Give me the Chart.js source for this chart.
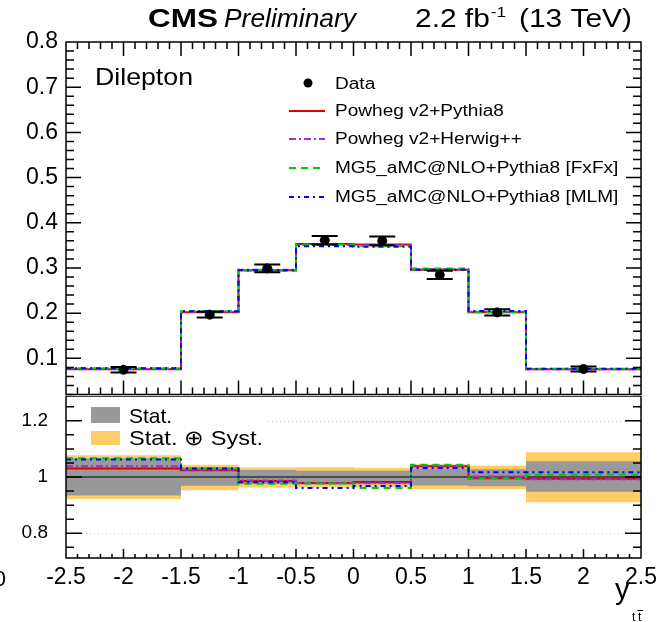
<!DOCTYPE html>
<html>
<head>
<meta charset="utf-8">
<script src="https://cdn.jsdelivr.net/npm/chart.js@4.4.0/dist/chart.umd.min.js"></script>
<style>
  html, body { margin: 0; padding: 0; background: #fff; }
  #wrap { position: relative; width: 670px; height: 622px; overflow: hidden; }
  #top { position: absolute; left: 0; top: 0; }
  #bot { position: absolute; left: 0; top: 396px; }
</style>
</head>
<body>
<div id="wrap">
  <canvas id="top" width="670" height="400"></canvas>
  <canvas id="bot" width="670" height="226"></canvas>
</div>
<script>
// bins of y(tt)
const binEdges = [-2.5, -1.5, -1, -0.5, 0, 0.5, 1, 1.5, 2.5];

// normalised cross section, data
const dataVals = [0.0748, 0.1967, 0.2990, 0.3615, 0.3600, 0.2847, 0.2017, 0.0765];
const dataErrs = [0.0060, 0.0062, 0.0084, 0.0095, 0.0095, 0.0090, 0.0070, 0.0055];

// predictions
const powhegPythia = [0.076, 0.202, 0.295, 0.353, 0.352, 0.296, 0.202, 0.076];
const powhegHerwig = [0.077, 0.203, 0.296, 0.351, 0.350, 0.297, 0.203, 0.076];
const mgFxFx       = [0.078, 0.204, 0.294, 0.352, 0.348, 0.299, 0.202, 0.077];
const mgMLM        = [0.078, 0.204, 0.295, 0.348, 0.347, 0.296, 0.205, 0.077];

// ratio panel
const ratioPowhegPythia = [1.030, 1.024, 0.986, 0.979, 0.982, 1.038, 0.996, 0.994];
const ratioPowhegHerwig = [1.038, 1.026, 0.988, 0.978, 0.979, 1.037, 1.002, 0.992];
const ratioFxFx         = [1.067, 1.030, 0.976, 0.977, 0.961, 1.044, 0.995, 1.008];
const ratioMLM          = [1.062, 1.030, 0.981, 0.961, 0.968, 1.032, 1.017, 1.017];
const statLow  = [0.934, 0.969, 0.975, 0.973, 0.973, 0.970, 0.967, 0.948];
const statHigh = [1.067, 1.036, 1.025, 1.022, 1.022, 1.030, 1.028, 1.056];
const systLow  = [0.922, 0.953, 0.963, 0.963, 0.963, 0.957, 0.957, 0.910];
const systHigh = [1.077, 1.044, 1.034, 1.035, 1.032, 1.045, 1.040, 1.088];
const unity = 1;

// tick labels
const mainTicks  = [0.1, 0.2, 0.3, 0.4, 0.5, 0.6, 0.7, 0.8];
const ratioTicks = [0.8, 1, 1.2];
const xTicks     = [-2.5, -2, -1.5, -1, -0.5, 0, 0.5, 1, 1.5, 2, 2.5];

const FONT = '"Liberation Sans", Arial, Helvetica, sans-serif';
Chart.defaults.font.family = FONT;
Chart.defaults.color = '#000';

const series = [
  { label: 'Powheg v2+Pythia8', color: '#dd0000', dash: [], main: powhegPythia, ratio: ratioPowhegPythia },
  { label: 'Powheg v2+Herwig++', color: '#9933cc', dash: [7, 3, 2, 3], main: powhegHerwig, ratio: ratioPowhegHerwig },
  { label: 'MG5_aMC@NLO+Pythia8 [FxFx]', color: '#00cc00', dash: [7, 5], main: mgFxFx, ratio: ratioFxFx },
  { label: 'MG5_aMC@NLO+Pythia8 [MLM]', color: '#0000ff', dash: [5, 4, 2, 4], main: mgMLM, ratio: ratioMLM }
];

const stepPts = vals => binEdges.map((e, i) => ({ x: e, y: vals[Math.min(i, vals.length - 1)] }));
const centers = binEdges.slice(0, -1).map((e, i) => (e + binEdges[i + 1]) / 2);

function txt(ctx, str, x, y, font, opts) {
  opts = opts || {};
  ctx.save();
  ctx.font = font;
  ctx.fillStyle = '#000';
  ctx.textBaseline = 'alphabetic';
  ctx.textAlign = 'left';
  const w = ctx.measureText(str).width;
  const sx = opts.width ? opts.width / w : (opts.sx || 1);
  ctx.translate(x, y);
  ctx.scale(sx, 1);
  ctx.fillText(str, opts.right ? -w : 0, 0);
  ctx.restore();
  return w * sx;
}

// ROOT style frame with inward ticks
const framePlugin = {
  id: 'frame',
  afterDraw(chart, args, o) {
    const { ctx, chartArea: a } = chart;
    const x = chart.scales.x, y = chart.scales.y;
    ctx.save();
    ctx.strokeStyle = '#000';
    ctx.lineWidth = 1.5;
    ctx.beginPath();
    for (let i = 1; i < 50; i++) {
      const px = x.getPixelForValue(-2.5 + i * 0.1);
      const len = i % 5 === 0 ? o.xMajor : o.xMinor;
      if (o.xTop) { ctx.moveTo(px, a.top); ctx.lineTo(px, a.top + len); }
      ctx.moveTo(px, a.bottom); ctx.lineTo(px, a.bottom - len);
    }
    o.yTicks.forEach(t => {
      const py = y.getPixelForValue(t.v);
      const len = t.major ? o.yMajor : o.yMinor;
      ctx.moveTo(a.left, py); ctx.lineTo(a.left + len, py);
      ctx.moveTo(a.right, py); ctx.lineTo(a.right - len, py);
    });
    ctx.stroke();
    ctx.strokeRect(a.left, a.top, a.right - a.left, a.bottom - a.top);
    ctx.restore();
  }
};

const errorBars = {
  id: 'errorBars',
  afterDatasetsDraw(chart) {
    const { ctx } = chart;
    const x = chart.scales.x, y = chart.scales.y;
    ctx.save();
    ctx.strokeStyle = '#000';
    ctx.lineWidth = 2;
    centers.forEach((c, i) => {
      const px = x.getPixelForValue(c);
      const lo = y.getPixelForValue(dataVals[i] - dataErrs[i]);
      const hi = y.getPixelForValue(dataVals[i] + dataErrs[i]);
      ctx.beginPath();
      ctx.moveTo(px, lo); ctx.lineTo(px, hi);
      ctx.moveTo(px - 13, lo); ctx.lineTo(px + 13, lo);
      ctx.moveTo(px - 13, hi); ctx.lineTo(px + 13, hi);
      ctx.stroke();
    });
    ctx.restore();
  }
};

const topDecor = {
  id: 'topDecor',
  afterDraw(chart) {
    const ctx = chart.ctx;
    // header
    txt(ctx, 'CMS', 148, 27, 'bold 26px ' + FONT, { width: 70 });
    txt(ctx, 'Preliminary', 224, 27, 'italic 26px ' + FONT, { width: 132 });
    let cx = 415;
    cx += txt(ctx, '2.2 fb', cx, 27, '26px ' + FONT, { sx: 1.15 });
    txt(ctx, '-1', cx + 1, 17, '15px ' + FONT, { sx: 1.15 });
    txt(ctx, '(13 TeV)', 632, 27, '26px ' + FONT, { sx: 1.15, right: true });
    txt(ctx, 'Dilepton', 95, 85, '24px ' + FONT, { width: 98 });

    // legend
    const rows = [111, 139, 168, 197];
    ctx.save();
    ctx.fillStyle = '#000';
    ctx.beginPath();
    ctx.arc(308, 83, 4.5, 0, Math.PI * 2);
    ctx.fill();
    ctx.restore();
    txt(ctx, 'Data', 335, 88.5, '16px ' + FONT, { sx: 1.19 });
    series.forEach((s, k) => {
      ctx.save();
      ctx.strokeStyle = s.color;
      ctx.lineWidth = 2;
      ctx.setLineDash(s.dash);
      ctx.beginPath();
      ctx.moveTo(289, rows[k]); ctx.lineTo(325, rows[k]);
      ctx.stroke();
      ctx.restore();
      txt(ctx, s.label, 335, rows[k] + 4.5, '16px ' + FONT, { sx: 1.19 });
    });
  }
};

const OFF = 396; // top of the ratio canvas on the page

const botDecor = {
  id: 'botDecor',
  beforeDatasetsDraw(chart) {
    const { ctx, chartArea: a } = chart;
    const y = chart.scales.y;
    ctx.save();
    ctx.strokeStyle = '#c8c8c8';
    ctx.lineWidth = 1;
    ctx.setLineDash([1, 3]);
    ctx.beginPath();
    const p12 = Math.round(y.getPixelForValue(1.2)) + 0.5;
    const p08 = Math.round(y.getPixelForValue(0.8)) + 0.5;
    ctx.moveTo(268, p12); ctx.lineTo(a.right, p12);
    ctx.moveTo(a.left, p08); ctx.lineTo(a.right, p08);
    ctx.stroke();
    ctx.restore();
  },
  afterDraw(chart) {
    const ctx = chart.ctx;
    ctx.save();
    ctx.fillStyle = '#999999';
    ctx.fillRect(91, 407 - OFF, 29, 16);
    ctx.fillStyle = '#ffcc66';
    ctx.fillRect(91, 431 - OFF, 29, 14);
    ctx.restore();
    txt(ctx, 'Stat.', 129, 423 - OFF, '21px ' + FONT, { sx: 1.0 });
    txt(ctx, 'Stat. \u2295 Syst.', 129, 445 - OFF, '21px ' + FONT, { width: 134 });
    // axis title
    txt(ctx, 'y', 615, 599 - OFF, '29px ' + FONT, { sx: 1.0 });
    txt(ctx, 't', 632, 621 - OFF, '12px ' + FONT, { sx: 1.0 });
    txt(ctx, 't', 638, 621 - OFF, '12px ' + FONT, { sx: 1.0 });
    ctx.save();
    ctx.strokeStyle = '#000';
    ctx.lineWidth = 1;
    ctx.beginPath();
    ctx.moveTo(637.5, 610.5 - OFF); ctx.lineTo(643, 610.5 - OFF);
    ctx.stroke();
    ctx.restore();
    txt(ctx, '0', 6, 586 - OFF, '22px ' + FONT, { right: true });
  }
};

const fmt1 = v => (v === 1 ? '1' : v.toFixed(1));
const noPad = s => { s.paddingTop = 0; s.paddingBottom = 0; };

const mainYTicks = [];
for (let i = 1; i < 40; i++) mainYTicks.push({ v: i * 0.02, major: i % 5 === 0 });
const ratioYTicks = [];
for (let i = 0; i <= 10; i++) ratioYTicks.push({ v: 0.75 + i * 0.05, major: (i - 1) % 4 === 0 });

new Chart(document.getElementById('top'), {
  type: 'line',
  data: {
    datasets: [
      ...series.map((s, k) => ({
        label: s.label,
        data: stepPts(s.main),
        stepped: 'before',
        borderColor: s.color,
        borderDash: s.dash,
        borderWidth: 2,
        pointRadius: 0,
        fill: false,
        order: 4 - k
      })),
      {
        label: 'Data',
        data: centers.map((c, i) => ({ x: c, y: dataVals[i] })),
        showLine: false,
        pointRadius: 4.5,
        pointBackgroundColor: '#000',
        pointBorderColor: '#000',
        order: 0
      }
    ]
  },
  options: {
    responsive: false,
    animation: false,
    devicePixelRatio: 1,
    layout: { padding: { top: 42, right: 29, bottom: 4, left: 0 } },
    plugins: {
      legend: { display: false },
      tooltip: { enabled: false },
      frame: { xTop: true, xMajor: 14, xMinor: 7, yMajor: 15, yMinor: 8, yTicks: mainYTicks }
    },
    scales: {
      x: { type: 'linear', min: -2.5, max: 2.5, display: false },
      y: {
        type: 'linear', min: 0.02, max: 0.8,
        grid: { display: false, drawTicks: false },
        border: { display: false },
        afterBuildTicks: s => { s.ticks = mainTicks.map(v => ({ value: v })); },
        afterFit: s => { s.width = 66; noPad(s); },
        ticks: { font: { size: 23 }, color: '#000', padding: 8, callback: v => v.toFixed(1) }
      }
    }
  },
  plugins: [framePlugin, errorBars, topDecor]
});

new Chart(document.getElementById('bot'), {
  type: 'line',
  data: {
    datasets: [
      { label: 'systHigh', data: stepPts(systHigh), stepped: 'before', borderWidth: 0, borderColor: 'rgba(0,0,0,0)', backgroundColor: '#ffcc66', fill: '+1', pointRadius: 0, order: 10 },
      { label: 'systLow', data: stepPts(systLow), stepped: 'before', borderWidth: 0, borderColor: 'rgba(0,0,0,0)', fill: false, pointRadius: 0, order: 10 },
      { label: 'statHigh', data: stepPts(statHigh), stepped: 'before', borderWidth: 0, borderColor: 'rgba(0,0,0,0)', backgroundColor: '#999999', fill: '+1', pointRadius: 0, order: 9 },
      { label: 'statLow', data: stepPts(statLow), stepped: 'before', borderWidth: 0, borderColor: 'rgba(0,0,0,0)', fill: false, pointRadius: 0, order: 9 },
      { label: 'unity', data: [binEdges[0], binEdges[binEdges.length - 1]].map(e => ({ x: e, y: unity })), borderColor: '#333', borderWidth: 1.5, pointRadius: 0, fill: false, order: 8 },
      ...series.map((s, k) => ({
        label: s.label,
        data: stepPts(s.ratio),
        stepped: 'before',
        borderColor: s.color,
        borderDash: s.dash,
        borderWidth: 2,
        pointRadius: 0,
        fill: false,
        order: 4 - k
      }))
    ]
  },
  options: {
    responsive: false,
    animation: false,
    devicePixelRatio: 1,
    layout: { padding: { top: 0, right: 29, bottom: 24, left: 0 } },
    plugins: {
      legend: { display: false },
      tooltip: { enabled: false },
      frame: { xTop: false, xMajor: 9, xMinor: 4, yMajor: 16, yMinor: 8, yTicks: ratioYTicks }
    },
    scales: {
      x: {
        type: 'linear', min: -2.5, max: 2.5,
        grid: { display: false, drawTicks: false },
        border: { display: false },
        afterBuildTicks: s => { s.ticks = xTicks.map(v => ({ value: v })); },
        afterFit: s => { s.height = 40; s.paddingLeft = 0; s.paddingRight = 0; },
        ticks: { font: { size: 23 }, color: '#000', padding: 6, autoSkip: false, maxRotation: 0, minRotation: 0, callback: v => String(v) }
      },
      y: {
        type: 'linear', min: 0.712, max: 1.288,
        grid: { display: false, drawTicks: false },
        border: { display: false },
        afterBuildTicks: s => { s.ticks = ratioTicks.map(v => ({ value: v })); },
        afterFit: s => { s.width = 66; noPad(s); },
        ticks: { font: { size: 19 }, color: '#000', padding: 18, callback: fmt1 }
      }
    }
  },
  plugins: [framePlugin, botDecor]
});
</script>
</body>
</html>
